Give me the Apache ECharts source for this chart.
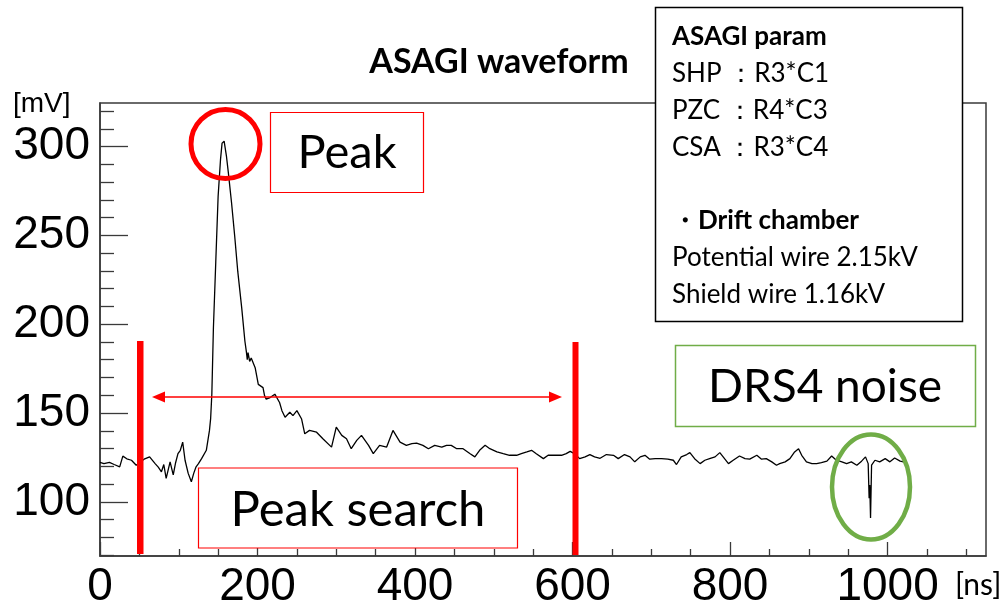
<!DOCTYPE html>
<html>
<head>
<meta charset="utf-8">
<script src="https://cdn.jsdelivr.net/npm/echarts@6/dist/echarts.min.js"></script>
<style>
  html, body { margin: 0; padding: 0; background: #ffffff; }
  #chart { width: 1007px; height: 610px; }
</style>
</head>
<body>
<div id="chart"></div>
<script>
// ASAGI preamp output recorded by the DRS4 digitiser: time [ns] and amplitude [mV]
const timeNs = [
  0, 5, 12, 18, 25, 29, 34, 40, 46, 50, 56, 63, 70, 74, 78, 81, 84, 89, 93, 96,
  99, 102, 105, 108, 112, 116, 119, 122, 125, 129, 131, 135, 137, 139, 140.5, 142, 144, 147, 150, 153,
  155, 157.6, 160.6, 163, 167, 171, 175, 180, 184, 186, 187, 188, 190, 192, 197, 201, 203, 207, 209, 211,
  216, 218, 222, 224, 228, 231, 235, 241, 245, 250, 256, 260, 266, 275, 283, 294, 300, 307, 313, 319,
  326, 332, 341, 347, 355, 364, 372, 381, 389, 396, 402, 410, 417, 425, 434, 440, 446, 453, 461, 470,
  476, 482, 489, 495, 504, 512, 520, 529, 535, 542, 548, 554, 563, 569, 578, 586, 592, 597, 603, 609,
  616, 622, 628, 635, 643, 652, 658, 666, 673, 679, 686, 692, 698, 705, 713, 721, 728, 732, 738, 745,
  749, 755, 762, 768, 774, 781, 787, 793, 798, 804, 812, 819, 825, 834, 840, 846, 853, 859, 863, 870,
  876, 882, 887, 891, 897, 904, 910, 916, 923, 929, 935, 942, 948, 954, 961, 967, 972, 975.4, 976.6, 977.4,
  978.4, 979.7, 984, 990, 997, 1003, 1009, 1016, 1020, 1023
];
const signalMv = [
  122.2, 121.5, 122.2, 121.0, 119.7, 125.7, 124.2, 123.4, 120.6, 122.0, 124.0, 125.3, 121.5, 119.5, 116.9, 121.0, 113.2, 122.5, 115.2, 122.0,
  127.1, 129.0, 133.6, 123.4, 116.0, 111.3, 116.0, 119.7, 121.5, 124.3, 125.3, 129.0, 134.6, 140.2, 147.0, 160.6, 197.8, 235.0, 272.1, 292.6,
  301.9, 303.0, 294.4, 285.2, 268.5, 249.8, 229.4, 208.9, 190.4, 184.0, 180.0, 184.0, 179.0, 181.0, 175.5, 166.1, 165.3, 164.3, 159.7, 157.8,
  158.7, 158.7, 160.6, 159.7, 155.9, 151.3, 147.6, 150.4, 148.5, 151.3, 146.6, 138.3, 140.2, 139.2, 135.5, 130.8, 142.0, 137.4, 135.5, 129.9,
  134.6, 137.4, 131.8, 127.1, 131.8, 130.8, 140.2, 133.6, 131.8, 132.7, 133.0, 131.8, 129.9, 131.8, 130.8, 131.8, 131.8, 129.9, 129.9, 127.1,
  125.3, 129.0, 131.8, 129.9, 128.1, 127.1, 126.2, 126.2, 127.1, 128.1, 129.0, 127.1, 124.3, 126.2, 126.2, 126.2, 127.1, 128.4, 127.0, 124.3,
  125.3, 126.6, 125.3, 124.5, 126.6, 126.2, 124.3, 126.6, 125.3, 122.5, 125.3, 126.2, 124.0, 124.3, 124.3, 124.0, 123.4, 121.0, 125.3, 126.6,
  127.7, 124.3, 121.5, 123.4, 124.3, 125.3, 127.7, 124.3, 121.5, 123.4, 125.8, 124.3, 124.0, 126.2, 124.0, 124.3, 122.5, 120.6, 121.5, 122.5,
  124.3, 128.1, 129.9, 126.2, 122.5, 121.5, 121.5, 122.1, 122.9, 125.8, 123.4, 122.5, 121.5, 122.5, 120.6, 122.9, 125.3, 121.5, 102.0, 109.5,
  90.9, 120.6, 123.4, 122.5, 124.3, 122.5, 124.7, 122.9, 122.5, 123.0
];

// Axis ticks (ROOT style: long major ticks, short minor ticks, all pointing inward)
const xMajorTicks = [0, 200, 400, 600, 800, 1000];
const xMinorTicks = [50, 100, 150, 250, 300, 350, 450, 500, 550, 650, 700, 750, 850, 900, 950, 1050, 1100];
const yMajorTicks = [100, 150, 200, 250, 300];
const yMinorTicks = [70, 80, 90, 110, 120, 130, 140, 160, 170, 180, 190, 210, 220, 230, 240, 260, 270, 280, 290, 310, 320];

const chartTitle = 'ASAGI waveform';
const yUnit = '[mV]';
const xUnit = '[ns]';
const infoLines = [
  { text: 'ASAGI param', bold: true },
  { text: 'SHP ：R3*C1', bold: false },
  { text: 'PZC ：R4*C3', bold: false },
  { text: 'CSA ：R3*C4', bold: false },
  { text: '', bold: false },
  { text: '・Drift chamber', bold: true },
  { text: 'Potential wire 2.15kV', bold: false },
  { text: 'Shield wire 1.16kV', bold: false }
];

const RED = '#ff0000';
const GREEN = '#70ad47';
const FRAME = '#3a3a3a';
const NOTE_FONT = 'Lato, "Noto Sans", sans-serif';
const AXIS_FONT = '"Liberation Sans", Arial, sans-serif';

const chart = echarts.init(document.getElementById('chart'), null, { renderer: 'canvas' });

const X_RANGE = [0, 1125];
const Y_RANGE = [69.5, 324.5];

function tickAxis(range, majors, minors, isX, withLabels) {
  const values = withLabels ? majors : minors;
  return {
    type: 'value',
    min: range[0],
    max: range[1],
    position: isX ? 'bottom' : 'left',
    offset: 0,
    axisLine: { show: withLabels, onZero: false, lineStyle: { color: FRAME, width: 1.5 } },
    axisTick: {
      show: true,
      inside: true,
      customValues: values,
      length: isX ? (withLabels ? 14 : 7) : (withLabels ? 28 : 14),
      lineStyle: { color: FRAME, width: 1.3 }
    },
    axisLabel: withLabels ? {
      show: true,
      customValues: majors,
      formatter: (v) => String(v),
      color: '#000',
      fontFamily: AXIS_FONT,
      fontSize: 46,
      margin: isX ? 8 : 10
    } : { show: false },
    splitLine: { show: false },
    minorTick: { show: false }
  };
}

const infoGraphics = infoLines.map((line, i) => ({
  type: 'text',
  z: 102,
  x: 672,
  y: 37 + i * 36.8,
  style: {
    text: line.text,
    fill: '#000',
    font: (line.bold ? 'bold ' : '') + '26px ' + NOTE_FONT,
    textVerticalAlign: 'middle'
  }
}));

chart.setOption({
  animation: false,
  backgroundColor: '#ffffff',
  grid: {
    left: 100, top: 103, right: 21, bottom: 50,
    show: true,
    borderColor: FRAME,
    borderWidth: 1.5,
    backgroundColor: 'transparent'
  },
  xAxis: [
    tickAxis(X_RANGE, xMajorTicks, xMinorTicks, true, true),
    tickAxis(X_RANGE, xMajorTicks, xMinorTicks, true, false)
  ],
  yAxis: [
    tickAxis(Y_RANGE, yMajorTicks, yMinorTicks, false, true),
    tickAxis(Y_RANGE, yMajorTicks, yMinorTicks, false, false)
  ],
  series: [{
    type: 'line',
    xAxisIndex: 0,
    yAxisIndex: 0,
    data: timeNs.map((t, i) => [t, signalMv[i]]),
    showSymbol: false,
    symbol: 'none',
    lineStyle: { color: '#000', width: 1.3 },
    clip: true
  }],
  graphic: [
    // title and axis unit labels
    { type: 'text', x: 499, y: 62, style: { text: chartTitle, fill: '#000', font: 'bold 34px ' + NOTE_FONT, textAlign: 'center', textVerticalAlign: 'middle' } },
    { type: 'text', left: 13, top: 90, style: { text: yUnit, fill: '#000', font: '28px ' + AXIS_FONT } },
    { type: 'text', left: 955, top: 570, style: { text: xUnit, fill: '#000', font: '30px ' + NOTE_FONT } },

    // peak marker
    { type: 'circle', z: 100, shape: { cx: 225.5, cy: 144, r: 34.5 }, style: { fill: 'none', stroke: RED, lineWidth: 5 } },
    { type: 'rect', z: 100, shape: { x: 270.5, y: 112.5, width: 153, height: 80 }, style: { fill: '#fff', stroke: RED, lineWidth: 1.2 } },
    { type: 'text', z: 101, x: 347, y: 153, style: { text: 'Peak', fill: '#000', font: '47px ' + NOTE_FONT, textAlign: 'center', textVerticalAlign: 'middle' } },

    // peak search window
    { type: 'rect', z: 100, shape: { x: 137, y: 341, width: 6.5, height: 213 }, style: { fill: RED } },
    { type: 'rect', z: 100, shape: { x: 572.5, y: 342, width: 6, height: 213 }, style: { fill: RED } },
    { type: 'line', z: 100, shape: { x1: 162, y1: 397, x2: 550, y2: 397 }, style: { stroke: RED, lineWidth: 1.5 } },
    { type: 'polygon', z: 100, shape: { points: [[152, 397], [165, 391.5], [165, 402.5]] }, style: { fill: RED } },
    { type: 'polygon', z: 100, shape: { points: [[562, 397], [549, 391.5], [549, 402.5]] }, style: { fill: RED } },
    { type: 'rect', z: 100, shape: { x: 198.5, y: 468, width: 319, height: 80 }, style: { fill: '#fff', stroke: RED, lineWidth: 1.2 } },
    { type: 'text', z: 101, x: 358, y: 510, style: { text: 'Peak search', fill: '#000', font: '49px ' + NOTE_FONT, textAlign: 'center', textVerticalAlign: 'middle' } },

    // digitiser noise marker
    { type: 'rect', z: 100, shape: { x: 675.5, y: 345.5, width: 300, height: 81 }, style: { fill: '#fff', stroke: GREEN, lineWidth: 1.5 } },
    { type: 'text', z: 101, x: 825, y: 387, style: { text: 'DRS4 noise', fill: '#000', font: '46px ' + NOTE_FONT, textAlign: 'center', textVerticalAlign: 'middle' } },
    { type: 'ellipse', z: 100, shape: { cx: 871, cy: 487, rx: 39, ry: 52.5 }, style: { fill: 'none', stroke: GREEN, lineWidth: 4.5 } },

    // parameter box
    { type: 'rect', z: 101, shape: { x: 655.5, y: 7.5, width: 307, height: 314 }, style: { fill: '#fff', stroke: '#000', lineWidth: 1.5 } }
  ].concat(infoGraphics)
});
</script>
</body>
</html>
